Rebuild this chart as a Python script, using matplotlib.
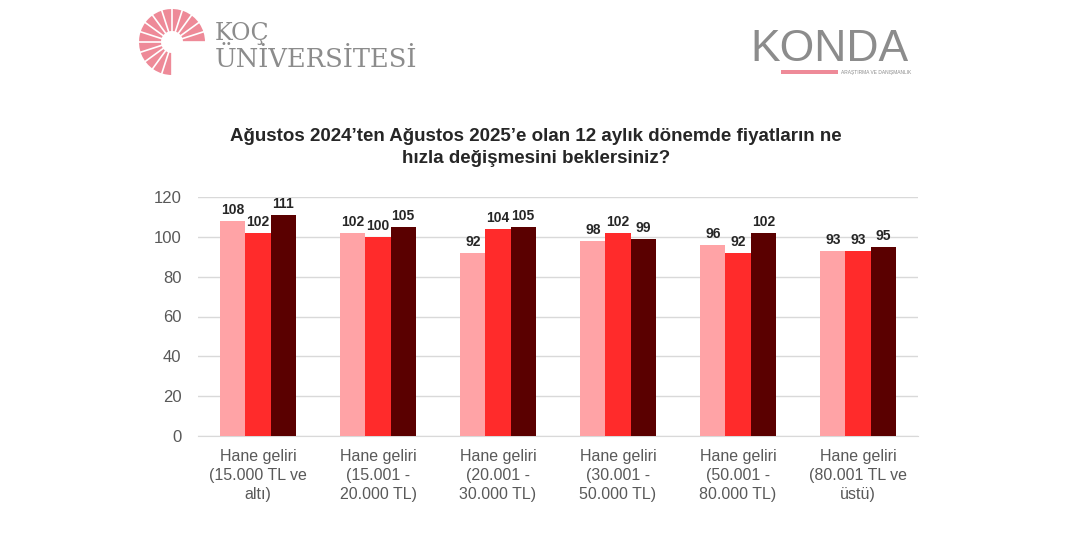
import numpy as np
import matplotlib
matplotlib.use("Agg")
import matplotlib.pyplot as plt
from matplotlib.patches import Wedge, Circle, Rectangle

# veriler
categories = [
    "Hane geliri\n(15.000 TL ve\naltı)",
    "Hane geliri\n(15.001 -\n20.000 TL)",
    "Hane geliri\n(20.001 -\n30.000 TL)",
    "Hane geliri\n(30.001 -\n50.000 TL)",
    "Hane geliri\n(50.001 -\n80.000 TL)",
    "Hane geliri\n(80.001 TL ve\nüstü)",
]
seri_1 = [108, 102, 92, 98, 96, 93]
seri_2 = [102, 100, 104, 102, 92, 93]
seri_3 = [111, 105, 105, 99, 102, 95]
yticks = [0, 20, 40, 60, 80, 100, 120]

colors = ["#FFA3A6", "#FF2B2B", "#5A0000"]
title = "Ağustos 2024’ten Ağustos 2025’e olan 12 aylık dönemde fiyatların ne\nhızla değişmesini beklersiniz?"

W, H = 1068, 534
fig = plt.figure(figsize=(W / 100, H / 100), dpi=100)
fig.patch.set_facecolor("white")

ax = fig.add_axes([198 / W, 1 - 436 / H, 720 / W, 239 / H])

x = np.arange(len(categories))
bw = 0.21
for k, vals in enumerate([seri_1, seri_2, seri_3]):
    bars = ax.bar(x + (k - 1) * bw, vals, width=bw, color=colors[k], zorder=3)
    for b, v in zip(bars, vals):
        ax.annotate(str(v), (b.get_x() + b.get_width() / 2, v),
                    xytext=(0, 3), textcoords="offset points",
                    ha="center", va="bottom", fontsize=10, fontweight="bold",
                    color="#262626", family=["Liberation Sans", "DejaVu Sans"],
                    annotation_clip=False)

ax.set_xlim(-0.5, len(categories) - 0.5)
ax.set_ylim(0, 120)
ax.set_yticks(yticks)
ax.set_xticks(x)
ax.set_xticklabels(categories, fontsize=11.5, color="#595959",
                   family=["Liberation Sans", "DejaVu Sans"], linespacing=1.35)
for lab in ax.get_yticklabels():
    lab.set_fontsize(12)
    lab.set_color("#595959")
    lab.set_family(["Liberation Sans", "DejaVu Sans"])
ax.tick_params(axis="both", length=0)
ax.tick_params(axis="y", pad=12)
ax.tick_params(axis="x", pad=9)
ax.grid(axis="y", color="#D9D9D9", linewidth=1, zorder=0)
for s in ["left", "right", "top"]:
    ax.spines[s].set_visible(False)
ax.spines["bottom"].set_color("#D9D9D9")

fig.text(536 / W, 1 - 128 / H, title, ha="center", va="top", fontsize=13.5,
         fontweight="bold", color="#262626", linespacing=1.35,
         family=["Liberation Sans", "DejaVu Sans"])

# Koç Üniversitesi logosu (yaklaşık)
lax = fig.add_axes([0, 0, 1, 1], zorder=-1)
lax.set_xlim(0, W)
lax.set_ylim(H, 0)
lax.axis("off")
cx, cy, r = 172, 42, 33
lax.add_patch(Wedge((cx, cy), r, 90, 360, facecolor="#EE8A98", edgecolor="none"))
lax.add_patch(Circle((cx, cy), 11, facecolor="white", edgecolor="none"))
for ang in np.linspace(0, 270, 16):
    a = np.deg2rad(ang)
    lax.plot([cx + 11 * np.cos(a), cx + r * np.cos(a)],
             [cy - 11 * np.sin(a), cy - r * np.sin(a)], color="white", lw=1.2)
lax.text(215, 40, "KOÇ", fontsize=17, color="#8C8C8C", family="DejaVu Serif",
         va="baseline", ha="left")
lax.text(215, 67, "ÜNİVERSİTESİ", fontsize=18.5, color="#8C8C8C", family="DejaVu Serif",
         va="baseline", ha="left")

# KONDA logosu (yaklaşık)
lax.text(750, 61, "KONDA", fontsize=32, color="#8C8C8C", va="baseline", ha="left",
         family=["Liberation Sans", "DejaVu Sans"])
lax.add_patch(Rectangle((781, 70), 57, 4, facecolor="#EE8A98", edgecolor="none"))
lax.text(841, 74, "ARAŞTIRMA VE DANIŞMANLIK", fontsize=3.5, color="#8C8C8C",
         va="baseline", ha="left", family=["Liberation Sans", "DejaVu Sans"])

fig.savefig("out.png", dpi=100)
